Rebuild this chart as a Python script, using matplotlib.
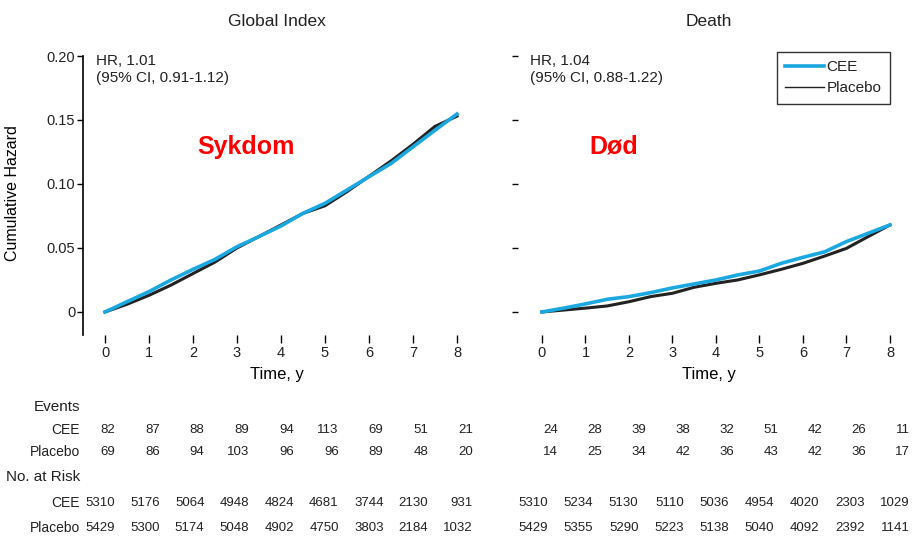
import matplotlib.pyplot as plt
from matplotlib.transforms import blended_transform_factory

plt.rcParams['font.family'] = ['Liberation Sans', 'DejaVu Sans']
plt.rcParams['text.color'] = '#222222'

# time in years (read at half-year steps)
years = [0, 0.5, 1, 1.5, 2, 2.5, 3, 3.5, 4, 4.5, 5, 5.5, 6, 6.5, 7, 7.5, 8]

gi_cee = [0, 0.008, 0.0159, 0.025, 0.0333, 0.0411, 0.051, 0.0589, 0.0672,
          0.0771, 0.0849, 0.0953, 0.1057, 0.116, 0.129, 0.142, 0.1547]
gi_placebo = [0, 0.006, 0.013, 0.021, 0.030, 0.039, 0.050, 0.059, 0.068,
              0.077, 0.083, 0.094, 0.106, 0.118, 0.131, 0.145, 0.153]

death_cee = [0, 0.003, 0.0063, 0.0099, 0.012, 0.0151, 0.0188, 0.0219, 0.025,
             0.0289, 0.032, 0.038, 0.0427, 0.047, 0.055, 0.0615, 0.068]
death_placebo = [0, 0.0015, 0.003, 0.0047, 0.008, 0.012, 0.0146, 0.0193, 0.0224,
                 0.025, 0.029, 0.0333, 0.038, 0.0437, 0.0497, 0.0589, 0.068]

gi_events_cee = [82, 87, 88, 89, 94, 113, 69, 51, 21]
gi_events_placebo = [69, 86, 94, 103, 96, 96, 89, 48, 20]
gi_risk_cee = [5310, 5176, 5064, 4948, 4824, 4681, 3744, 2130, 931]
gi_risk_placebo = [5429, 5300, 5174, 5048, 4902, 4750, 3803, 2184, 1032]

d_events_cee = [24, 28, 39, 38, 32, 51, 42, 26, 11]
d_events_placebo = [14, 25, 34, 42, 36, 43, 42, 36, 17]
d_risk_cee = [5310, 5234, 5130, 5110, 5036, 4954, 4020, 2303, 1029]
d_risk_placebo = [5429, 5355, 5290, 5223, 5138, 5040, 4092, 2392, 1141]

yticks = [0, 0.05, 0.10, 0.15, 0.20]
ytick_labels = ['0', '0.05', '0.10', '0.15', '0.20']

blue = '#1ba8e0'
W, H = 913, 538

fig = plt.figure(figsize=(9.13, 5.38), dpi=100)
ax1 = fig.add_axes([83 / W, 1 - 335 / H, 387 / W, 279 / H])
ax2 = fig.add_axes([515 / W, 1 - 335 / H, 388 / W, 279 / H])

for ax in (ax1, ax2):
    ax.set_ylim(-0.018, 0.2)
    ax.set_yticks(yticks)
    ax.set_xticks(range(9))
    ax.tick_params(axis='x', length=6, width=1, pad=2, labelsize=10.5, labelcolor='#222222')
    for s in ['top', 'right', 'bottom']:
        ax.spines[s].set_visible(False)
    ax.set_xlabel('Time, y', fontsize=12)
    ax.xaxis.set_label_coords(0.5, -0.115)

ax1.set_xlim(-0.5, 8.295)
ax2.set_xlim(-0.62, 8.3)

ax1.plot(years, gi_placebo, color='#222222', lw=2.2)
ax1.plot(years, gi_cee, color=blue, lw=2.6)
ax2.plot(years, death_placebo, color='#222222', lw=2.2, label='Placebo')
ax2.plot(years, death_cee, color=blue, lw=2.6, label='CEE')

ax1.set_yticklabels(ytick_labels)
ax1.tick_params(axis='y', length=4, width=1, pad=1.5, labelsize=10.5, labelcolor='#222222')
ax1.spines['left'].set_linewidth(1.2)
ax1.set_ylabel('Cumulative Hazard', fontsize=11.5)
ax1.yaxis.set_label_coords(-0.163, 0.51)

ax2.spines['left'].set_visible(False)
ax2.tick_params(axis='y', direction='inout', length=5, width=1, labelleft=False)

ax1.text(0.5, 1.122, 'Global Index', transform=ax1.transAxes, ha='center', va='center', fontsize=12.5)
ax2.text(0.5, 1.122, 'Death', transform=ax2.transAxes, ha='center', va='center', fontsize=12.5)

ax1.text(0.034, 1.008, 'HR, 1.01\n(95% CI, 0.91-1.12)', transform=ax1.transAxes,
         ha='left', va='top', fontsize=11, linespacing=1.3)
ax2.text(0.039, 1.008, 'HR, 1.04\n(95% CI, 0.88-1.22)', transform=ax2.transAxes,
         ha='left', va='top', fontsize=11, linespacing=1.3)

ax1.text(3.2, 0.129, 'Sykdom', color='red', fontsize=18, fontweight='bold', ha='center', va='center')
ax2.text(1.66, 0.129, 'Død', color='red', fontsize=18, fontweight='bold', ha='center', va='center')

h, l = ax2.get_legend_handles_labels()
leg = ax2.legend([h[1], h[0]], [l[1], l[0]], loc='upper right',
                 bbox_to_anchor=(890 / W, 1 - 52 / H), bbox_transform=fig.transFigure,
                 fancybox=False, frameon=True, fontsize=11, handlelength=2.5,
                 handletextpad=0.2, borderpad=0.55, labelspacing=0.45, borderaxespad=0)
leg.get_frame().set_edgecolor('black')
leg.get_frame().set_linewidth(1)
leg.get_lines()[1].set_linewidth(1)

# risk table
row_y = {'ev_cee': 430, 'ev_pl': 452, 'rk_cee': 503, 'rk_pl': 528}
for lab, ypx, size in [('Events', 407, 11), ('CEE', 430, 10), ('Placebo', 452, 10),
                       ('No. at Risk', 477, 11), ('CEE', 503, 10), ('Placebo', 528, 10)]:
    fig.text(80 / W, 1 - ypx / H, lab, ha='right', va='center', fontsize=size)

tr1 = blended_transform_factory(ax1.transData, fig.transFigure)
tr2 = blended_transform_factory(ax2.transData, fig.transFigure)
for i in range(9):
    x1 = 0.227 + 1.017 * i
    for vals, key in [(gi_events_cee, 'ev_cee'), (gi_events_placebo, 'ev_pl'),
                      (gi_risk_cee, 'rk_cee'), (gi_risk_placebo, 'rk_pl')]:
        ax1.text(x1, 1 - row_y[key] / H, str(vals[i]), transform=tr1,
                 ha='right', va='center', fontsize=9.5, clip_on=False)
    xe = 0.368 + 1.0115 * i
    xr = 0.138 + 1.040 * i
    for vals, key, x in [(d_events_cee, 'ev_cee', xe), (d_events_placebo, 'ev_pl', xe),
                         (d_risk_cee, 'rk_cee', xr), (d_risk_placebo, 'rk_pl', xr)]:
        ax2.text(x, 1 - row_y[key] / H, str(vals[i]), transform=tr2,
                 ha='right', va='center', fontsize=9.5, clip_on=False)

fig.savefig('out.png', dpi=100)
